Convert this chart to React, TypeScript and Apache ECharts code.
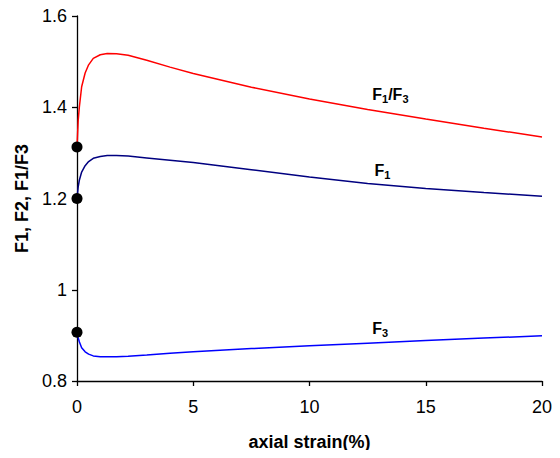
import React, { useEffect, useRef } from "react";
import * as echarts from "echarts";

const strain = [0, 0.05, 0.1, 0.2, 0.35, 0.5, 0.7, 1.0, 1.3, 1.7, 2.2, 3, 4, 5, 7.5, 10, 12.5, 15, 17.5, 20];
const ratioF1F3 = [1.313, 1.37, 1.4, 1.445, 1.475, 1.493, 1.507, 1.515, 1.518, 1.517, 1.514, 1.503, 1.488, 1.474, 1.444, 1.418, 1.395, 1.374, 1.354, 1.335];
const f1 = [1.2, 1.225, 1.24, 1.258, 1.272, 1.281, 1.288, 1.292, 1.294, 1.294, 1.293, 1.289, 1.284, 1.279, 1.263, 1.247, 1.233, 1.222, 1.213, 1.205];
const f3 = [0.907, 0.895, 0.886, 0.873, 0.864, 0.859, 0.855, 0.853, 0.853, 0.853, 0.854, 0.857, 0.861, 0.864, 0.871, 0.877, 0.883, 0.889, 0.894, 0.899];
const startDots = [1.313, 1.2, 0.907];
const xTicks = [0, 5, 10, 15, 20];
const yTicks = [0.8, 1, 1.2, 1.4, 1.6];
// label anchors [strain, value]
const labelRatio = [12.7, 1.427];
const labelF1 = [12.8, 1.262];
const labelF3 = [12.7, 0.916];

const pair = (ys: number[]) => strain.map((x, i) => [x, ys[i]]);

const font = "Liberation Sans, Arial, sans-serif";
const rich = {
  a: { fontSize: 16, fontWeight: "bold", color: "#000", fontFamily: font },
  b: { fontSize: 11, fontWeight: "bold", color: "#000", fontFamily: font, padding: [9, 0, 0, 0] },
};

const mk = (coord: number[], text: string) => ({
  symbol: "circle",
  symbolSize: 0,
  silent: true,
  data: [
    {
      coord,
      label: { show: true, position: "right", distance: 0, formatter: text, rich },
    },
  ],
});

export default function App() {
  const ref = useRef<HTMLDivElement>(null);
  useEffect(() => {
    if (!ref.current) return;
    const chart = echarts.init(ref.current, undefined, { renderer: "svg" });
    chart.setOption({
      animation: false,
      backgroundColor: "#fff",
      grid: { left: 77, right: 18, top: 16, bottom: 77, containLabel: false },
      xAxis: {
        type: "value",
        min: xTicks[0],
        max: xTicks[xTicks.length - 1],
        interval: 5,
        name: "axial strain(%)",
        nameLocation: "middle",
        nameGap: 52,
        nameTextStyle: { fontSize: 18, fontWeight: "bold", color: "#000", fontFamily: font },
        axisLine: { lineStyle: { color: "#000", width: 1.3 } },
        axisTick: { show: true, inside: false, length: 5, lineStyle: { color: "#000", width: 1.3 } },
        axisLabel: { fontSize: 18, color: "#000", fontFamily: font, margin: 17 },
        splitLine: { show: false },
      },
      yAxis: {
        type: "value",
        min: yTicks[0],
        max: yTicks[yTicks.length - 1],
        interval: 0.2,
        name: "F1, F2, F1/F3",
        nameLocation: "middle",
        nameGap: 41,
        nameTextStyle: { fontSize: 18, fontWeight: "bold", color: "#000", fontFamily: font },
        axisLine: { show: true, lineStyle: { color: "#000", width: 1.3 } },
        axisTick: { show: true, inside: false, length: 5, lineStyle: { color: "#000", width: 1.3 } },
        axisLabel: { fontSize: 18, color: "#000", fontFamily: font, margin: 10 },
        splitLine: { show: false },
      },
      series: [
        {
          type: "line",
          data: pair(ratioF1F3),
          smooth: false,
          showSymbol: false,
          lineStyle: { color: "#ff0000", width: 1.5 },
          markPoint: mk(labelRatio, "{a|F}{b|1}{a|/F}{b|3}"),
          z: 3,
        },
        {
          type: "line",
          data: pair(f1),
          smooth: false,
          showSymbol: false,
          lineStyle: { color: "#000080", width: 1.5 },
          markPoint: mk(labelF1, "{a|F}{b|1}"),
          z: 3,
        },
        {
          type: "line",
          data: pair(f3),
          smooth: false,
          showSymbol: false,
          lineStyle: { color: "#0000ff", width: 1.5 },
          markPoint: mk(labelF3, "{a|F}{b|3}"),
          z: 3,
        },
        {
          type: "scatter",
          data: startDots.map((v) => [0, v]),
          symbol: "circle",
          symbolSize: 11,
          itemStyle: { color: "#000", opacity: 1 },
          z: 5,
        },
      ],
    });
    return () => chart.dispose();
  }, []);
  return <div ref={ref} style={{ width: 560, height: 458, margin: -8 }} />;
}
